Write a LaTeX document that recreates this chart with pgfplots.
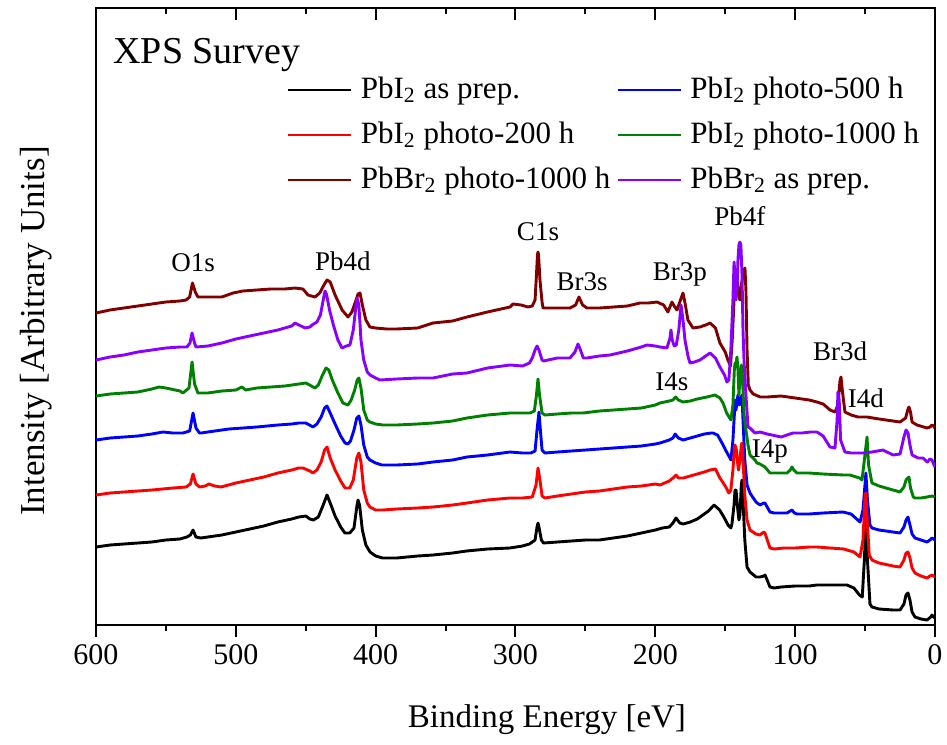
\documentclass[border=0pt]{standalone}
\usepackage{pgfplots}
\pgfplotsset{compat=1.18}
\usepackage{fontspec}
\setmainfont{Liberation Serif}

\definecolor{cbrown}{RGB}{128,0,0}
\definecolor{cviolet}{RGB}{136,0,255}
\definecolor{cgreen}{RGB}{0,128,0}

\begin{document}
\begin{tikzpicture}
\pgfplotsset{
  base/.style={
    at={(0,0)}, anchor=south west,
    width=419.5pt, height=308.5pt, scale only axis,
    x dir=reverse, xmin=0, xmax=600,
    y dir=reverse, ymin=8, ymax=625,
    xtick={0,100,...,600}, minor xtick={50,150,...,550},
    ytick=\empty,
    major tick length=6pt, minor tick length=3pt,
    every tick/.style={black, line width=1pt},
    axis line style={line width=1pt},
  }
}
\begin{axis}[base,
  xtick pos=left, tick align=outside,
  /pgf/number format/assume math mode=true,
  ticklabel style={font=\fontsize{15}{18}\selectfont},
  xlabel={Binding Energy [eV]},
  ylabel={Intensity [Arbitrary Units]},
  every axis x label/.style={at={([xshift=15.75pt,yshift=-51pt]axis description cs:0.5,0)}, anchor=base, font=\fontsize{16.5}{20}\selectfont},
  every axis y label/.style={at={([xshift=-25.5pt,yshift=-7.25pt]axis description cs:0,0.5)}, rotate=90, anchor=base, font=\fontsize{17.5}{21}\selectfont},
  every axis plot/.append style={line width=1.45pt, line join=round},
  legend columns=2, legend cell align=left,
  legend image code/.code={\draw[#1] (0pt,0pt) -- (31.5pt,0pt);},
  legend style={at={(axis description cs:0.2277,0.893)}, anchor=north west,
    draw=none, fill=none, inner sep=0pt, outer sep=0pt,
    font=\fontsize{15.5}{18}\selectfont, row sep=6.5pt,
    nodes={inner sep=0pt, text height=12pt, text depth=4pt},
    /tikz/every odd column/.append style={column sep=4pt},
    /tikz/every even column/.append style={column sep=3pt}},
]
% PbI2 as prep.
\addplot[black] coordinates {
(600,547) (590,545) (580,544) (570,543) (560,542) (550,540) (540,539) (535,537) (532.5,535) (530.6,530) (528.5,537) (525,538)
(520,537) (510,535) (500,532) (490,529) (480,526) (470,522) (460,519) (455,517) (450,516) (447,519) (444.5,520) (441,517)
(437.5,505) (434.8,495) (432.5,503) (429,516) (425,527) (422,533) (418.5,533) (415.5,528) (413.3,505) (412.6,500) (411.5,505)
(409.5,530) (407,545) (404,552) (400,556) (395,558) (385,558) (370,556) (359,555) (345,553) (335,551) (320,549) (304,548)
(295,546) (290,544) (286,540) (284.6,527) (283.9,523) (283.2,527) (281.5,540) (280,543) (270,542) (260,541) (250,540) (240,540)
(230,538) (220,536) (210,533) (200,530) (195,528) (190,527) (187.4,523) (185.2,518) (182.5,523) (180,524) (175,522) (170,519)
(166,515) (162,511) (158,505) (154,510) (151,517) (148,525) (146,528) (145.2,524) (143.7,505) (143,490) (142.3,490) (141,510)
(140.2,520) (139.5,515) (138.5,485) (138,480) (137.3,500) (136,540) (134.4,567) (132.3,572) (128,577) (125,577) (122.5,576)
(121.6,575) (120,580) (118,587) (115,588) (110,587) (100,586) (90,586) (84.4,585) (75,585) (70,585) (62.9,585) (58,588)
(54,595) (52,597) (50.5,560) (49.4,520) (48.3,560) (46.5,604) (45.1,607) (40,609) (30,610) (25,610) (22.2,604) (20.7,595)
(19.3,593) (17.9,600) (16.4,612) (14.3,617) (10,619) (5.7,620) (3,617) (2.1,615) (1,617) (0,618)};
\addlegendentry{PbI\textsubscript{2} as prep.}
% PbI2 photo-500 h
\addplot[blue] coordinates {
(600,440) (590,438) (580,437) (570,436) (560,434) (552.1,432) (545,433) (537.8,433) (533,431) (530.6,413) (528.5,428) (526,433)
(524.9,433) (515,431) (505,429) (494.9,428) (485,427) (470,425) (460,424) (455,423) (450,423) (446,426) (444.8,427) (442,424)
(439,417) (436.5,408) (434.8,406) (432.5,413) (429,424) (425,436) (421.9,443) (419.8,444) (418,441) (415.5,430) (413.5,418)
(412,416) (410.5,425) (408.5,445) (406,457) (404.1,460) (400,463) (395.5,465) (385,465) (370,464) (359,462) (345,460)
(334.7,457) (320,455) (304,452) (295,453) (289,453) (286,451) (284.6,430) (283.2,412) (282.2,430) (281,450) (279,453)
(270,452) (260,451) (250,450) (240,449) (230,448) (220,447) (210,446) (200,444) (196.7,443) (190,440) (187.4,438)
(185.8,434) (183.5,438) (180.2,440) (175,438) (170,436) (165,434) (160,433) (158.8,433) (155.5,435) (152.3,443) (149,452)
(146.6,458) (145.9,460) (144.5,440) (143.5,415) (143,400) (142.3,410) (141.6,402) (140.9,395) (140,405) (139,400) (138,395)
(137.3,420) (136,460) (134.4,485) (132.3,493) (128,502) (125.2,505) (122.5,503) (121.6,503) (118,512) (115,513) (105.8,513)
(103.5,511) (102.3,510) (100.5,513) (98.7,514) (90,514) (80,513) (65.8,512) (60,514) (53.6,522) (51.5,510) (49.4,473)
(48.3,500) (46.5,525) (45.1,528) (40,530) (30,532) (25,533) (22.2,527) (20.7,520) (19.3,517) (17.9,525) (16.4,534) (14.3,538)
(10,540) (5.7,542) (3.6,540) (2.1,538) (0,540)};
\addlegendentry{PbI\textsubscript{2} photo-500 h}
% PbI2 photo-200 h
\addplot[red] coordinates {
(600,495) (590,493) (580,492) (570,491) (560,490) (545,488) (535.6,487) (532.5,484) (530.6,474) (528.5,484) (526,487) (522,486)
(519.2,484) (515,486) (510.6,487) (500,483) (490,480) (480,477) (470,473) (460,470) (455,468) (452,468) (447,471) (444.8,473)
(442,470) (439,462) (436.5,450) (434.8,447) (432.5,458) (429,470) (425,481) (421.9,488) (418.5,488) (416,480) (413.5,458)
(412,453) (410.5,462) (408.5,490) (406,503) (404.1,507) (400,510) (395,510) (385,509) (370,508) (359,507) (345,505)
(334.7,503) (320,500) (304,498) (295,498) (288,497) (285.3,485) (283.9,468) (282.5,480) (281,496) (279,498) (270,496)
(260,494) (250,492) (240,491) (230,489) (220,487) (210,486) (200,484) (196.7,485) (190,481) (186.5,477) (185.2,475)
(183.5,478) (180,478) (175,476) (170,474) (165,472) (160.9,470) (157,469) (153.8,478) (150,486) (147.4,493) (146,490)
(144.5,470) (143.5,450) (143,445) (142,450) (141,465) (140.5,470) (139.5,460) (138.5,445) (138,443) (137.3,460) (136,495)
(134.4,520) (132.3,530) (128,534) (125.2,535) (122.5,532) (121.6,533) (118,548) (115,549) (108,548) (100,548) (90,547)
(84.4,547) (75,548) (65,549) (62.9,550) (58,552) (53.6,557) (51.5,540) (50,495) (49.4,493) (48.5,520) (47,555) (45.1,560)
(40,563) (30,566) (25,567) (22.2,560) (20.7,553) (19.3,552) (17.9,558) (16.4,568) (14.3,573) (10,576) (5.7,578) (3.6,576)
(2.1,575) (0,577)};
\addlegendentry{PbI\textsubscript{2} photo-200 h}
% PbI2 photo-1000 h
\addplot[cgreen] coordinates {
(600,396) (590,394) (580,393) (570,392) (560,389) (554.9,387) (550,388) (540,391) (537.8,393) (533.5,388) (531.3,362)
(529.5,384) (527.1,393) (520,393) (510,391) (500,390) (495.6,387) (493,390) (485,388) (475,387) (465,386) (455,384)
(449.8,383) (446,386) (443.4,388) (441,385) (438,375) (435.5,368) (433.5,370) (431,380) (427,393) (423.4,403) (419.8,405)
(417.5,400) (415,390) (413.2,380) (412,378) (410.5,388) (408.5,410) (406,420) (404.1,422) (400,424) (394.8,425) (385,425)
(370,424) (359,423) (345,421) (334.7,418) (320,415) (303.9,413) (295,413) (289.6,413) (286.5,411) (285,395) (283.9,379)
(282.8,395) (281,413) (279,415) (270,414) (260,413) (251.7,413) (240,411) (230,410) (220,409) (210,408) (200,405)
(196.7,403) (190,401) (187.4,400) (185.5,397) (183.5,400) (180.2,402) (175,401) (170,399) (163.1,397) (157.3,395)
(153.8,398) (151.6,403) (149,413) (145.9,420) (144.5,405) (143.5,370) (143,363) (142.5,365) (141.6,357) (140.9,370)
(140.2,395) (139.3,375) (138.5,365) (137.8,375) (136.5,415) (135.2,430) (133.7,445) (132.3,455) (128.7,460) (127.3,463)
(125.2,464) (121.6,467) (118,473) (110,473) (105.8,473) (103.5,470) (102.3,467) (101,470) (98.7,473) (90,473) (80,474)
(65,475) (60.8,475) (54,478) (52.2,480) (50.5,460) (48.6,437) (47.5,465) (45.1,483) (40,486) (30,490) (25,492) (22.2,487)
(20.7,480) (18.6,477) (17.5,488) (15.5,497) (14.3,498) (10,498) (5.7,497) (2.1,496) (0,497)};
\addlegendentry{PbI\textsubscript{2} photo-1000 h}
% PbBr2 photo-1000 h
\addplot[cbrown] coordinates {
(600,313) (590,310) (580,308) (570,306) (560,304) (550,302) (540,301) (535.6,300) (533,297) (531,283) (529,292) (527.1,297)
(520,297) (510,297) (502,293) (495,291) (485,290) (475,289) (465,289) (457.7,288) (452,289) (448.4,295) (443.4,297)
(440,293) (437,285) (434.8,280) (432.5,282) (429,295) (424,310) (419.8,317) (417,312) (414,300) (412.6,294) (411.2,293)
(409.5,305) (407,320) (404.1,327) (400,328) (391.9,329) (385,329) (370,328) (359,323) (345,321) (334.7,317) (320,312)
(303.9,307) (301.8,304) (296,305) (291,307) (288,306) (286,300) (285,275) (284.3,255) (283.9,252) (283.5,255) (282.5,280)
(281,302) (280.3,308) (270,308) (261,308) (257,305) (254.6,297) (252,305) (248.9,308) (240,308) (230,307) (220,306)
(211,303) (205,303) (198.8,302) (194,305) (191,312) (189,305) (188.1,302) (186.5,306) (184.5,310) (182,300) (180.2,293)
(178.5,305) (176.7,320) (173.1,328) (168.1,327) (164,325) (160.9,323) (157,328) (153.8,343) (150,352) (148.1,360)
(146.2,366) (145,340) (143.7,300) (142.8,285) (141.6,278) (140.5,295) (139.5,300) (138.5,285) (136.5,270) (135.9,268)
(135.2,290) (134.4,350) (133.5,385) (132.3,390) (130,394) (125,397) (120,397) (110,396) (100,398) (90,400) (84.4,402)
(80,404) (75,410) (71.5,412) (69.4,405) (67.9,380) (67.2,377) (66.3,390) (64.4,412) (60,415) (55,417) (48.6,417) (40,419)
(30,421) (25,422) (21,418) (19.3,409) (18.6,407) (17.5,412) (16.4,422) (12.9,425) (8,427) (5.7,428) (3.6,427) (2.1,425)
(1,426) (0,428)};
\addlegendentry{PbBr\textsubscript{2} photo-1000 h}
% PbBr2 as prep.
\addplot[cviolet] coordinates {
(600,360) (590,357) (580,355) (570,352) (560,350) (550,348) (540,347) (535,347) (532.8,343) (531.3,333) (529.5,343)
(528.5,347) (520,346) (510,343) (500,339) (490,336) (480,333) (470,330) (460,326) (457.7,323) (450.5,328) (447,327)
(445.5,325) (442,322) (439.5,315) (437.5,300) (436.2,291) (435,295) (433,310) (430,326) (427,340) (424.1,348) (421,346)
(418.4,345) (416,330) (414,305) (413.3,298) (412,305) (410.5,340) (408.5,360) (406,372) (404,375) (400,378) (396.9,380)
(385,379) (370,378) (359,378) (345,374) (334.7,373) (320,368) (303.9,365) (295,366) (290,363) (288,358) (286,350)
(284.6,346) (283.2,350) (281,360) (280,361) (270,358) (261,358) (257.5,352) (255.3,344) (253.5,350) (251.5,358)
(248.9,358) (240,356) (232.4,355) (220,351) (210,347) (206,345) (200,346) (196.7,347) (191.7,348) (189.5,338) (188.8,330)
(187.9,340) (186.5,346) (185,345) (183.2,330) (181.6,305) (180.2,320) (178.8,340) (176.5,357) (175.2,363) (172,362)
(168.1,360) (164,356) (160.9,353) (157,358) (153.8,367) (150.5,375) (148.8,382) (147.4,380) (146,350) (144.5,300)
(143.7,262) (143,275) (142.3,300) (141.6,290) (140.9,260) (140.2,245) (139.5,242) (138.8,245) (138,275) (137.3,330)
(136.5,363) (135.2,395) (133.7,427) (132.3,428) (128.7,433) (125.2,432) (120,434) (110,437) (101.6,433) (95,433) (89,432)
(84.4,432) (80,436) (75.1,447) (71.5,448) (70,420) (69.4,392) (68.5,400) (67.5,440) (64.4,452) (60,453) (51.5,453)
(45,452) (37.2,450) (30,455) (25,454) (22.2,437) (20.7,430) (19.3,433) (17.9,445) (16.4,455) (12,458) (8.6,458) (5.5,462)
(3.6,459) (2.1,460) (1,464) (0,467)};
\addlegendentry{PbBr\textsubscript{2} as prep.}

\begin{scope}[font=\fontsize{13.5}{16}\selectfont]
\node[anchor=base] at (axis cs:530.6,271) {O1s};
\node[anchor=base] at (axis cs:423.4,270) {Pb4d};
\node[anchor=base] at (axis cs:283.9,240) {C1s};
\node[anchor=base] at (axis cs:252.4,290) {Br3s};
\node[anchor=base] at (axis cs:182.4,280) {Br3p};
\node[anchor=base] at (axis cs:139.5,225) {Pb4f};
\node[anchor=base] at (axis cs:188.1,390) {I4s};
\node[anchor=base] at (axis cs:118.0,457) {I4p};
\node[anchor=base] at (axis cs:67.9,360) {Br3d};
\node[anchor=base] at (axis cs:49.4,407) {I4d};
\end{scope}
\node[anchor=base west, inner sep=0pt, font=\fontsize{19}{23}\selectfont] at (axis cs:587.8,63) {XPS Survey};
\end{axis}
% top ticks pointing inward
\begin{axis}[base,
  xtick pos=right, tick align=inside, xticklabels={},
  axis line style={draw=none},
]
\addplot[draw=none] coordinates {(0,300) (600,300)};
\end{axis}
\pgfresetboundingbox
\path (-48pt,-59.5pt) rectangle (425.5pt,312.5pt);
\end{tikzpicture}
\end{document}
